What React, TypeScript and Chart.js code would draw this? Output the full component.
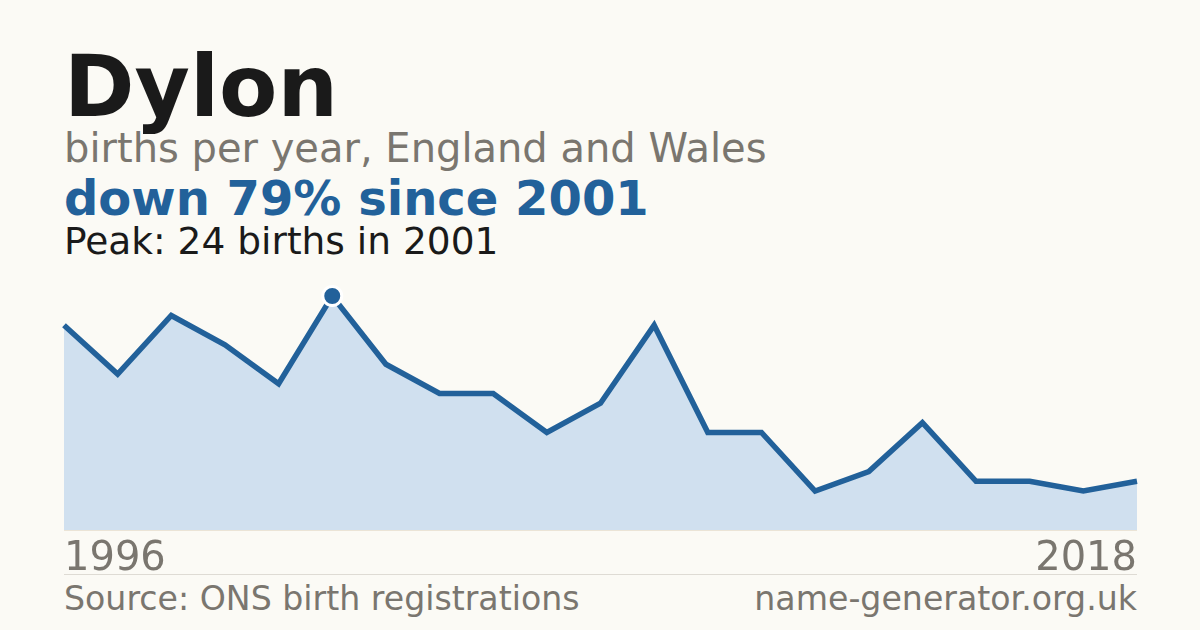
import React, { useEffect, useRef } from "react";
import { Chart, registerables } from "chart.js";

Chart.register(...registerables);

const years: string[] = [
  "1996", "1997", "1998", "1999", "2000", "2001", "2002", "2003", "2004", "2005",
  "2006", "2007", "2008", "2009", "2010", "2011", "2012", "2013", "2014", "2016", "2018",
];
const births: number[] = [21, 16, 22, 19, 15, 24, 17, 14, 14, 10, 13, 21, 10, 10, 4, 6, 11, 5, 5, 4, 5];
const peakIndex = 5;

const FONT = "'DejaVu Sans', 'Noto Sans', sans-serif";
const BG = "#fbfaf5";
const BLUE = "#22619a";
const GREY = "#7a766f";

export default function App() {
  const ref = useRef<HTMLCanvasElement | null>(null);

  useEffect(() => {
    document.body.style.margin = "0";
    document.body.style.background = BG;
    if (!ref.current) return;
    const chart = new Chart(ref.current, {
      type: "line",
      data: {
        labels: years,
        datasets: [
          {
            data: births,
            borderColor: BLUE,
            borderWidth: 5.5,
            backgroundColor: "#d0e0ef",
            fill: "origin",
            tension: 0,
            pointRadius: births.map((_, i) => (i === peakIndex ? 9.5 : 0)),
            pointHoverRadius: births.map((_, i) => (i === peakIndex ? 9.5 : 0)),
            pointBackgroundColor: BLUE,
            pointBorderColor: "#ffffff",
            pointBorderWidth: 3,
            clip: false as any,
          },
        ],
      },
      options: {
        animation: false,
        responsive: false,
        maintainAspectRatio: false,
        layout: { padding: { left: 10, right: 10, top: 16, bottom: 10 } },
        plugins: { legend: { display: false }, tooltip: { enabled: false } },
        scales: {
          x: { type: "category", display: false, offset: false },
          y: { display: false, min: 0, max: 24 },
        },
      },
    });
    return () => chart.destroy();
  }, []);

  const text = (
    content: string,
    top: number,
    size: number,
    color: string,
    weight: number | string = 400,
    extra: React.CSSProperties = {}
  ) => (
    <div
      style={{
        position: "absolute",
        top,
        left: 64,
        fontFamily: FONT,
        fontSize: size,
        lineHeight: 1,
        color,
        fontWeight: weight,
        whiteSpace: "nowrap",
        ...extra,
      }}
    >
      {content}
    </div>
  );

  return (
    <div
      style={{
        position: "fixed",
        left: 0,
        top: 0,
        width: 1200,
        height: 630,
        background: BG,
        overflow: "hidden",
      }}
    >
      {text("Dylon", 44, 85, "#1a1a1a", 700)}
      {text("births per year, England and Wales", 128, 40, GREY)}
      {text("down 79% since 2001", 174, 48, BLUE, 700)}
      {text("Peak: 24 births in 2001", 223, 37.5, "#1a1a1a")}
      <div style={{ position: "absolute", left: 64, top: 530, width: 1073, height: 1, background: "#ebe4d6" }} />
      <canvas
        ref={ref}
        width={1093}
        height={260}
        style={{ position: "absolute", left: 54, top: 280, width: 1093, height: 260 }}
      />
      {text(years[0], 536, 40, GREY)}
      {text(years[years.length - 1], 536, 40, GREY, 400, { left: undefined, right: 63 })}
      <div style={{ position: "absolute", left: 64, top: 574, width: 1073, height: 1, background: "#dedbd4" }} />
      {text("Source: ONS birth registrations", 582, 33.2, GREY)}
      {text("name-generator.org.uk", 582, 33.2, GREY, 400, { left: undefined, right: 63 })}
    </div>
  );
}
